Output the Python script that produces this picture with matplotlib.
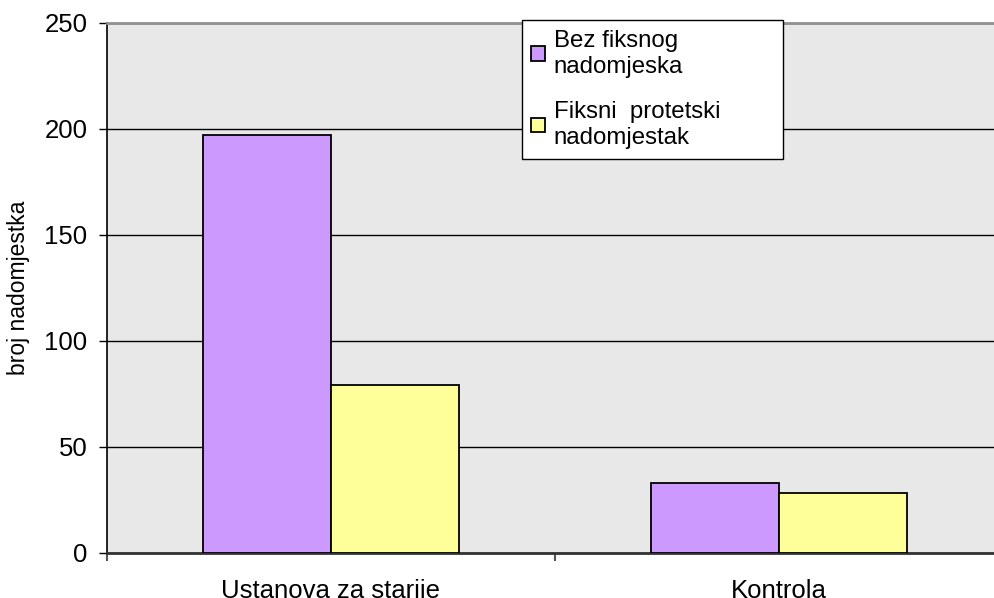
import matplotlib
matplotlib.use("Agg")
import matplotlib.pyplot as plt
import numpy as np
from matplotlib.patches import Patch

plt.rcParams['font.family'] = ['Liberation Sans', 'DejaVu Sans']

categories = ["Ustanova za starije", "Kontrola"]
series_names = ["Bez fiksnog\nnadomjeska", "Fiksni  protetski\nnadomjestak"]
bez_fiksnog = [197, 33]
fiksni = [79, 28]
colors = ["#CC99FF", "#FFFF99"]
yticks = [0, 50, 100, 150, 200, 250]

FS = 18.5
W, H = 994, 598
fig = plt.figure(figsize=(W / 100, H / 100), dpi=100)
left, right, bottom, top = 106.7, 1003, 552.7, 23
ax = fig.add_axes([left / W, 1 - bottom / H, (right - left) / W, (bottom - top) / H])
ax.set_facecolor("#E8E8E8")

x = np.arange(len(categories))
bw = 1 / 3.5
ax.bar(x - bw / 2, bez_fiksnog, bw, color=colors[0], edgecolor="black", linewidth=1.3,
       label=series_names[0], zorder=3)
ax.bar(x + bw / 2, fiksni, bw, color=colors[1], edgecolor="black", linewidth=1.3,
       label=series_names[1], zorder=3)

ax.set_xlim(-0.5, len(categories) - 0.5)
ax.set_ylim(0, 250)
ax.set_yticks(yticks)
ax.set_yticklabels([str(v) for v in yticks], fontsize=FS)
ax.yaxis.grid(True, color="black", linewidth=1.0, zorder=1)
ax.set_axisbelow(True)
ax.tick_params(axis="y", direction="out", length=6, width=1, pad=8)

ax.set_xticks(np.arange(-0.5, len(categories), 1.0))
ax.set_xticklabels([])
ax.tick_params(axis="x", which="major", direction="out", length=6, width=1.5, colors="#555555")
ax.set_xticks(x, minor=True)
ax.set_xticklabels(categories, minor=True, fontsize=FS)
ax.tick_params(axis="x", which="minor", length=0, pad=19)

ax.set_ylabel("broj nadomjestka", fontsize=16.5, labelpad=10)

ax.spines["left"].set_color("black")
ax.spines["left"].set_linewidth(1.2)
ax.spines["bottom"].set_color("#333333")
ax.spines["bottom"].set_linewidth(2)
ax.spines["top"].set_color("#909090")
ax.spines["top"].set_linewidth(2)
ax.spines["right"].set_visible(False)

handles = [Patch(facecolor=c, edgecolor="black", linewidth=1.3) for c in colors]
leg = fig.legend(handles, series_names, loc="upper left",
                 bbox_to_anchor=(521.7 / W, 1 - 158 / H, 261 / W, 138 / H),
                 bbox_transform=fig.transFigure, mode="expand",
                 fontsize=17.3, frameon=True, fancybox=False, shadow=False,
                 edgecolor="black", framealpha=1, borderpad=0.4, borderaxespad=0,
                 handlelength=0.55, handleheight=0.55, handletextpad=0.38,
                 labelspacing=0.95)
leg.get_frame().set_linewidth(1.0)
for t in leg.get_texts():
    t.set_linespacing(1.25)

fig.savefig("out.png", dpi=100)
